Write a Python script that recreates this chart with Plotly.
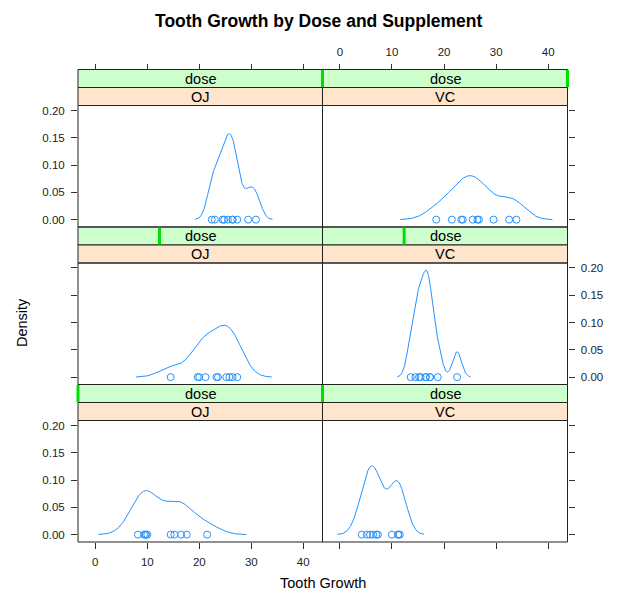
import numpy as np
import plotly.graph_objects as go

# ---------------- data (ToothGrowth) ----------------
supp_levels = ["OJ", "VC"]
dose_levels = [0.5, 1.0, 2.0]

len_OJ_d05 = [15.2, 21.5, 17.6, 9.7, 14.5, 10.0, 8.2, 9.4, 16.5, 9.7]
len_OJ_d1 = [19.7, 23.3, 23.6, 26.4, 20.0, 25.2, 25.8, 21.2, 14.5, 27.3]
len_OJ_d2 = [25.5, 26.4, 22.4, 24.5, 24.8, 30.9, 26.4, 27.3, 29.4, 23.0]
len_VC_d05 = [4.2, 11.5, 7.3, 5.8, 6.4, 10.0, 11.2, 11.2, 5.2, 7.0]
len_VC_d1 = [16.5, 16.5, 15.2, 17.3, 22.5, 17.3, 13.6, 14.5, 18.8, 15.5]
len_VC_d2 = [23.6, 18.5, 33.9, 25.5, 26.4, 32.5, 26.7, 21.5, 23.3, 29.5]

x_ticks = [0, 10, 20, 30, 40]
y_ticks = [0.00, 0.05, 0.10, 0.15, 0.20]

groups = {
    ("OJ", 0.5): len_OJ_d05, ("OJ", 1.0): len_OJ_d1, ("OJ", 2.0): len_OJ_d2,
    ("VC", 0.5): len_VC_d05, ("VC", 1.0): len_VC_d1, ("VC", 2.0): len_VC_d2,
}


def bw_nrd0(x):
    x = np.asarray(x, float)
    hi = np.std(x, ddof=1)
    q1, q3 = np.percentile(x, [25, 75])
    lo = min(hi, (q3 - q1) / 1.34)
    if lo == 0:
        lo = hi if hi > 0 else 1.0
    return 0.9 * lo * len(x) ** (-0.2)


def kde(x):
    x = np.asarray(x, float)
    bw = bw_nrd0(x)
    g = np.linspace(x.min() - 3 * bw, x.max() + 3 * bw, 512)
    d = np.exp(-0.5 * ((g[:, None] - x[None, :]) / bw) ** 2).sum(1) / (len(x) * bw * np.sqrt(2 * np.pi))
    return g, d


W, H = 618, 591
FONT = "Liberation Sans, Arial, Helvetica, sans-serif"
BLUE = "#0080ff"
col_px = [(78.0, 322.5), (322.5, 567.5)]
T0, BLOCK, SH = 69.5, 157.5, 18.0
row_doses = [2.0, 1.0, 0.5]  # top to bottom

XR = [-3.33, 43.7]
YR = [-0.0135, 0.2091]


def fx(px):
    return px / W


def fy(py):
    return 1 - py / H


fig = go.Figure()
layout = dict(width=W, height=H, margin=dict(l=0, r=0, t=0, b=0),
              paper_bgcolor="white", plot_bgcolor="white", showlegend=False,
              font=dict(family=FONT, color="#000"))
shapes, annotations = [], []

k = 0
for r, dose in enumerate(row_doses):
    top = T0 + r * BLOCK
    ptop, pbot = top + 2 * SH, top + BLOCK
    for c, supp in enumerate(supp_levels):
        k += 1
        xa = "x" if k == 1 else f"x{k}"
        ya = "y" if k == 1 else f"y{k}"
        xl, xr = col_px[c]
        vals = groups[(supp, dose)]
        g, d = kde(vals)
        fig.add_trace(go.Scatter(x=g, y=d, mode="lines", line=dict(color=BLUE, width=1),
                                 opacity=0.85, xaxis=xa, yaxis=ya, hoverinfo="skip"))
        fig.add_trace(go.Scatter(x=vals, y=[0] * len(vals), mode="markers",
                                 marker=dict(symbol="circle-open", size=7, color=BLUE,
                                             line=dict(width=1, color=BLUE)),
                                 opacity=0.85, xaxis=xa, yaxis=ya, hoverinfo="skip"))
        # x axis
        xax = dict(domain=[fx(xl), fx(xr)], range=XR, showgrid=False, zeroline=False,
                   showline=False, tickvals=x_ticks, ticktext=[str(t) for t in x_ticks],
                   tickfont=dict(size=11.5, family=FONT, color="#222"),
                   ticklen=6, tickcolor="#333", tickwidth=1, fixedrange=True,
                   ticklabelstandoff=3)
        if r == 2:
            xax.update(anchor=ya, side="bottom", ticks="outside", showticklabels=(c == 0))
        elif r == 0:
            xax.update(anchor="free", position=fy(top), side="top", ticks="outside",
                       showticklabels=(c == 1))
        else:
            xax.update(anchor=ya, ticks="", showticklabels=False)
        layout["xaxis" if k == 1 else f"xaxis{k}"] = xax
        # y axis
        yax = dict(domain=[fy(pbot), fy(ptop)], range=YR, anchor=xa, showgrid=False,
                   zeroline=False, showline=False, tickvals=y_ticks,
                   ticktext=[f"{t:.2f}" for t in y_ticks],
                   tickfont=dict(size=11.5, family=FONT, color="#222"),
                   ticks="outside", ticklen=6, tickcolor="#333", tickwidth=1, fixedrange=True,
                   ticklabelstandoff=4)
        if c == 0:
            yax.update(side="left", showticklabels=(r != 1))
        else:
            yax.update(side="right", showticklabels=(r == 1))
        layout["yaxis" if k == 1 else f"yaxis{k}"] = yax

        # strips
        shapes.append(dict(type="rect", xref="paper", yref="paper", x0=fx(xl), x1=fx(xr),
                           y0=fy(top + SH), y1=fy(top), fillcolor="#ccffcc",
                           line=dict(color="#222", width=1), layer="below"))
        shapes.append(dict(type="rect", xref="paper", yref="paper", x0=fx(xl), x1=fx(xr),
                           y0=fy(top + 2 * SH), y1=fy(top + SH), fillcolor="#ffe5cc",
                           line=dict(color="#222", width=1), layer="below"))
        # dose level indicator
        frac = (dose - min(dose_levels)) / (max(dose_levels) - min(dose_levels))
        bx = xl + frac * (xr - xl)
        shapes.append(dict(type="line", xref="paper", yref="paper", x0=fx(bx), x1=fx(bx),
                           y0=fy(top + SH - 0.5), y1=fy(top + 0.5),
                           line=dict(color="#00e000", width=3)))
        annotations.append(dict(text="dose", xref="paper", yref="paper",
                                x=fx((xl + xr) / 2), y=fy(top + SH / 2), showarrow=False,
                                font=dict(size=14.5, family=FONT, color="#000"),
                                xanchor="center", yanchor="middle"))
        annotations.append(dict(text=supp, xref="paper", yref="paper",
                                x=fx((xl + xr) / 2), y=fy(top + 1.5 * SH), showarrow=False,
                                font=dict(size=14.5, family=FONT, color="#000"),
                                xanchor="center", yanchor="middle"))
        # panel border
        shapes.append(dict(type="rect", xref="paper", yref="paper", x0=fx(xl), x1=fx(xr),
                           y0=fy(pbot), y1=fy(ptop), fillcolor="rgba(0,0,0,0)",
                           line=dict(color="#222", width=1)))

annotations.append(dict(text="<b>Tooth Growth by Dose and Supplement</b>", xref="paper",
                        yref="paper", x=fx(318), y=fy(21), showarrow=False,
                        font=dict(size=17.5, family=FONT, color="#000"),
                        xanchor="center", yanchor="middle"))
annotations.append(dict(text="Tooth Growth", xref="paper", yref="paper", x=fx(323),
                        y=fy(583), showarrow=False, font=dict(size=14.5, family=FONT, color="#000"),
                        xanchor="center", yanchor="middle"))
annotations.append(dict(text="Density", xref="paper", yref="paper", x=fx(22), y=fy(323),
                        showarrow=False, textangle=-90,
                        font=dict(size=14.5, family=FONT, color="#000"),
                        xanchor="center", yanchor="middle"))

layout["shapes"] = shapes
layout["annotations"] = annotations
fig.update_layout(**layout)
fig.write_html("out.html")
